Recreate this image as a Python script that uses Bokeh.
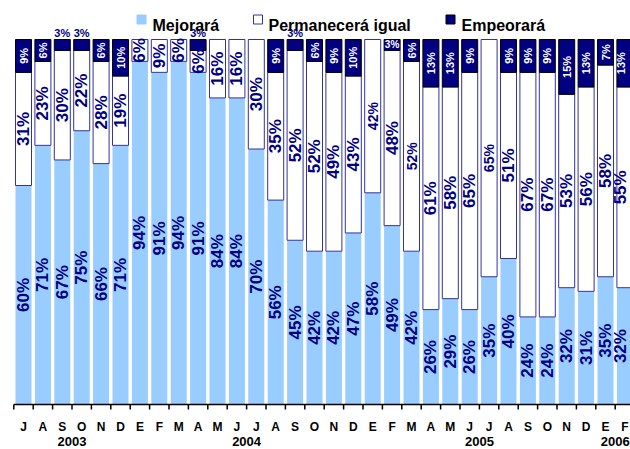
import numpy as np
from bokeh.plotting import figure
from bokeh.models import Range1d
from bokeh.core.properties import value
from bokeh.embed import file_html
from bokeh.resources import INLINE

# ---------------- data ----------------
months = ["J", "A", "S", "O", "N", "D",
          "E", "F", "M", "A", "M", "J", "J", "A", "S", "O", "N", "D",
          "E", "F", "M", "A", "M", "J", "J", "A", "S", "O", "N", "D",
          "E", "F"]
years = ["2003", "2004", "2005", "2006"]
year_counts = [6, 12, 12, 2]
series_names = ["Mejorará", "Permanecerá igual", "Empeorará"]
mejorara = [60, 71, 67, 75, 66, 71, 94, 91, 94, 91, 84, 84, 70, 56, 45, 42,
            42, 47, 58, 49, 42, 26, 29, 26, 35, 40, 24, 24, 32, 31, 35, 32]
permanecera = [31, 23, 30, 22, 28, 19, 6, 9, 6, 6, 16, 16, 30, 35, 52, 52,
               49, 43, 42, 48, 52, 61, 58, 65, 65, 51, 67, 67, 53, 56, 58, 55]
empeorara = [9, 6, 3, 3, 6, 10, 0, 0, 0, 3, 0, 0, 0, 9, 3, 6,
             9, 10, 0, 3, 6, 13, 13, 9, 0, 9, 9, 9, 15, 13, 7, 13]

# ---------------- styles ----------------
C_LIGHT = "#99CCFF"
C_NAVY = "#000080"
C_EDGE = "#333399"
FONT = value("Liberation Sans")
small_perm_labels = {18, 20, 24}      # labels drawn in a smaller font
inside_small_emp = {19}               # small "Empeorará" label kept inside bar

W, H = 630, 449
PX0, PITCH = 23.0, 19.4               # px of first category centre, px per category
Y0, SCALE = 404.0, 3.65               # px of the 0 % line, px per %


def fx(px):
    return (px - PX0) / PITCH


def fy(py):
    return (Y0 - py) / SCALE


n = len(months)
x = np.arange(n)
xl = np.minimum(x, fx(W - 10))        # keep rotated labels inside the canvas
m = np.array(mejorara, dtype=float)
pe = np.array(permanecera, dtype=float)
e = np.array(empeorara, dtype=float)

p = figure(width=W, height=H, output_backend="svg", toolbar_location=None,
           x_axis_type=None, y_axis_type=None,
           x_range=Range1d(fx(0), fx(W)),
           y_range=Range1d(fy(H), fy(0)),
           min_border=0, min_border_left=0, min_border_right=0,
           min_border_top=0, min_border_bottom=0)
p.outline_line_color = None
p.background_fill_color = "white"
p.border_fill_color = "white"

BW = 0.825
# bars
p.vbar(x=x, width=BW, bottom=0, top=m, fill_color=C_LIGHT, line_color=None)
p.vbar(x=x, width=BW, bottom=m, top=m + pe, fill_color="white",
       line_color=C_EDGE, line_width=1)
nz = e > 0
p.vbar(x=x[nz], width=BW, bottom=(m + pe)[nz], top=(m + pe + e)[nz],
       fill_color=C_NAVY, line_color="black", line_width=1)

# labels: Mejorará
p.text(x=xl, y=m / 2, text=[f"{v}%" for v in mejorara], angle=np.pi / 2,
       text_font=FONT, text_font_style="bold", text_font_size="17px",
       text_color=C_NAVY, text_align="center", text_baseline="middle")

# labels: Permanecerá
big = [i for i in range(n) if i not in small_perm_labels and permanecera[i] > 0]
sm = [i for i in range(n) if i in small_perm_labels]
p.text(x=xl[big], y=(m + pe / 2)[big], text=[f"{permanecera[i]}%" for i in big],
       angle=np.pi / 2, text_font=FONT, text_font_style="bold",
       text_font_size="17px", text_color=C_NAVY,
       text_align="center", text_baseline="middle")
p.text(x=xl[sm], y=(m + pe / 2)[sm], text=[f"{permanecera[i]}%" for i in sm],
       angle=np.pi / 2, text_font=FONT, text_font_style="bold",
       text_font_size="14px", text_color=C_NAVY,
       text_align="center", text_baseline="middle")

# labels: Empeorará
rot = [i for i in range(n) if empeorara[i] >= 5]
ins = [i for i in range(n) if 0 < empeorara[i] < 5 and i in inside_small_emp]
above = [i for i in range(n) if 0 < empeorara[i] < 5 and i not in inside_small_emp]
tot = m + pe + e
p.text(x=xl[rot], y=(m + pe + e / 2)[rot], text=[f"{empeorara[i]}%" for i in rot],
       angle=np.pi / 2, text_font=FONT, text_font_style="bold",
       text_font_size="11px", text_color="white",
       text_align="center", text_baseline="middle")
p.text(x=x[ins], y=(m + pe + e / 2)[ins], text=[f"{empeorara[i]}%" for i in ins],
       text_font=FONT, text_font_style="bold",
       text_font_size="10px", text_color="white",
       text_align="center", text_baseline="middle")
p.text(x=x[above], y=tot[above] + 7 / SCALE, text=[f"{empeorara[i]}%" for i in above],
       text_font=FONT, text_font_style="bold",
       text_font_size="11px", text_color=C_NAVY,
       text_align="center", text_baseline="middle")

# x axis
p.segment(x0=[-0.5], y0=[0], x1=[n + 0.5], y1=[0], line_color="black", line_width=1.5)
bnd = np.arange(n + 1) - 0.5
p.segment(x0=bnd, y0=np.zeros(n + 1), x1=bnd, y1=np.full(n + 1, -5 / SCALE),
          line_color="black", line_width=1.5)
p.text(x=x, y=np.full(n, fy(426.5)), text=months, text_font=FONT,
       text_font_style="bold", text_font_size="12px", text_color="black",
       text_align="center", text_baseline="middle")
starts = np.cumsum([0] + year_counts[:-1])
ycent = starts + (np.array(year_counts) - 1) / 2
p.text(x=ycent, y=np.full(len(years), fy(440.5)), text=years, text_font=FONT,
       text_font_style="bold", text_font_size="13px", text_color="black",
       text_align="center", text_baseline="middle")

# legend (drawn as glyphs)
leg_sq_x = [141, 257.5, 450]
leg_tx_x = [152, 268, 461]
p.scatter(x=[fx(v) for v in leg_sq_x], y=[fy(19)] * 3, marker="square", size=9,
          fill_color=[C_LIGHT, "white", C_NAVY],
          line_color=[C_LIGHT, C_EDGE, "black"], line_width=1)
p.text(x=[fx(v) for v in leg_tx_x], y=[fy(25)] * 3, text=series_names,
       text_font=FONT, text_font_style="bold", text_font_size="16px",
       text_color="black", text_align="left", text_baseline="alphabetic")

open("out.html", "w").write(file_html(p, INLINE))
